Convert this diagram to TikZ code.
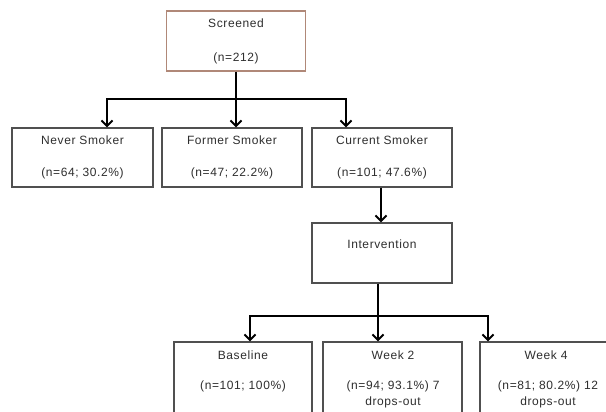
\documentclass[tikz,border=0pt]{standalone}
\usepackage{fontspec}
\setmainfont{Liberation Sans}[LetterSpace=5]
\usetikzlibrary{arrows.meta}
\definecolor{boxc}{HTML}{505050}
\definecolor{scrc}{HTML}{B08878}
\definecolor{txtc}{HTML}{2E2E2E}
\tikzset{
 box/.style={draw=boxc, line width=1.3pt, fill=white, inner sep=0pt, text=txtc, align=center, font=\fontsize{12}{32}\selectfont},
 txt/.style={text=txtc, inner sep=0pt, align=center, font=\fontsize{12}{16}\selectfont},
 conn/.style={line width=2pt, black},
 arr/.style={conn, -{Straight Barb[length=5.5pt,width=11pt]}},
}
\begin{document}
\begin{tikzpicture}[x=1pt,y=-1pt]
\useasboundingbox (0,0) rectangle (606,412);
\clip (0,0) rectangle (606,412);
\node[box, draw=scrc, minimum width=139pt, minimum height=60pt, font=\fontsize{12}{34}\selectfont] (scr) at (236,41) {Screened\\(n=212)};
\node[box, minimum width=141pt, minimum height=59pt] (never) at (82.5,157.5) {Never Smoker\\(n=64; 30.2\%)};
\node[box, minimum width=140pt, minimum height=59pt] (former) at (232,157.5) {Former Smoker\\(n=47; 22.2\%)};
\node[box, minimum width=140pt, minimum height=59pt] (current) at (382,157.5) {Current Smoker\\(n=101; 47.6\%)};
\node[box, minimum width=140pt, minimum height=60pt] (intv) at (382,253) {};
\node[txt] (intvT) at (382,244) {Intervention};
\node[box, minimum width=138pt, minimum height=88pt] (bl) at (243,386) {};
\node[box, minimum width=139pt, minimum height=88pt] (w2) at (392.5,386) {};
\node[box, minimum width=137pt, minimum height=88pt] (w4) at (548.5,386) {};
\node[txt] (blA) at (243,355) {Baseline};
\node[txt] (blB) at (243,386) {(n=101; 100\%)};
\node[txt] (w2A) at (393,355) {Week 2};
\node[txt] (w2B) at (393,394) {(n=94; 93.1\%) 7\\drops-out};
\node[txt] (w4A) at (546,355) {Week 4};
\node[txt] (w4B) at (548,394) {(n=81; 80.2\%) 12\\drops-out};
\coordinate (j1) at (236,99);
\draw[conn] (scr.south) -- (j1);
\draw[arr] (j1) -| ([xshift=24.5]never.north);
\draw[arr] (j1) -- (j1 |- former.north);
\draw[arr] (j1) -| ([xshift=-36]current.north);
\draw[arr] ([xshift=-1]current.south) -- ([xshift=-1]intv.north);
\coordinate (j2) at (378,316);
\draw[conn] (j2 |- intv.south) -- (j2);
\draw[arr] (j2) -| ([xshift=7]bl.north);
\draw[arr] (j2) -- (j2 |- w2.north);
\draw[arr] (j2) -| ([xshift=-60.5]w4.north);
\end{tikzpicture}
\end{document}
